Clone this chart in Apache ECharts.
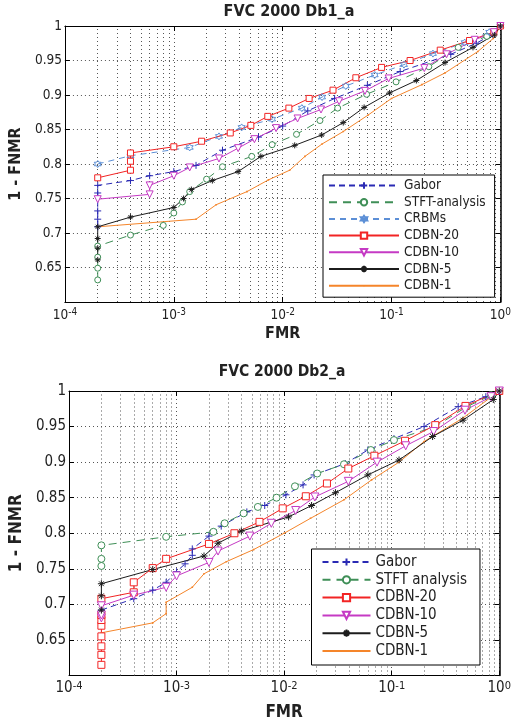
<!DOCTYPE html>
<html><head><meta charset="utf-8">
<script src="https://cdn.jsdelivr.net/npm/echarts@6/dist/echarts.min.js"></script>
<style>html,body{margin:0;padding:0;background:#fff}#c{width:514px;height:723px}</style>
</head><body><div id="c"></div>
<script>
// ---------- data ----------
const xTicks = [1e-4, 1e-3, 1e-2, 1e-1, 1];
const yTicks = [0.65, 0.7, 0.75, 0.8, 0.85, 0.9, 0.95, 1];
const titles = ['FVC 2000 Db1_a', 'FVC 2000 Db2_a'];
const names1 = ['Gabor', 'STFT-analysis', 'CRBMs', 'CDBN-20', 'CDBN-10', 'CDBN-5', 'CDBN-1'];
const names2 = ['Gabor', 'STFT analysis', 'CDBN-20', 'CDBN-10', 'CDBN-5', 'CDBN-1'];

// Chart 1: FVC 2000 Db1_a  [FMR, 1-FNMR]
const gabor1 = [[2e-4,0.709],[2e-4,0.720],[2e-4,0.732],[2e-4,0.758],[2e-4,0.769],[4e-4,0.776],[6e-4,0.783],[1e-3,0.789],[1.6e-3,0.798],[2.8e-3,0.820],[6e-3,0.839],[1e-2,0.855],[1.7e-2,0.877],[3e-2,0.895],[6e-2,0.914],[0.12,0.934],[0.35,0.959],[0.6,0.975],[0.85,0.988],[1,1]];
const stft1 = [[2e-4,0.632],[2e-4,0.649],[2e-4,0.665],[2e-4,0.681],[4e-4,0.697],[8e-4,0.711],[1e-3,0.729],[1.2e-3,0.745],[1.4e-3,0.760],[2e-3,0.778],[2.8e-3,0.796],[5.2e-3,0.811],[8e-3,0.828],[1.34e-2,0.843],[2.2e-2,0.863],[3.2e-2,0.881],[5.9e-2,0.901],[0.11,0.919],[0.22,0.941],[0.41,0.969],[0.75,0.985],[1,1]];
const crbm1 = [[2e-4,0.800],[4e-4,0.812],[1.4e-3,0.824],[2.6e-3,0.840],[4.2e-3,0.853],[8e-3,0.865],[1.5e-2,0.881],[2.3e-2,0.897],[3.8e-2,0.913],[7e-2,0.929],[0.13,0.944],[0.24,0.960],[0.47,0.976],[0.79,0.991],[1,1]];
const cdbn20_1 = [[2e-4,0.780],[4e-4,0.791],[4e-4,0.804],[4e-4,0.816],[1e-3,0.825],[1.8e-3,0.833],[3.3e-3,0.845],[5.1e-3,0.856],[7.3e-3,0.869],[1.14e-2,0.881],[1.75e-2,0.895],[2.9e-2,0.907],[4.7e-2,0.925],[8.1e-2,0.940],[0.148,0.950],[0.28,0.965],[0.52,0.979],[0.87,0.991],[1,1]];
const cdbn10_1 = [[2e-4,0.749],[6e-4,0.756],[6e-4,0.769],[1e-3,0.783],[1.4e-3,0.795],[2.6e-3,0.808],[3.9e-3,0.823],[5.5e-3,0.836],[8.7e-3,0.852],[1.37e-2,0.866],[2.25e-2,0.879],[3.3e-2,0.891],[5.7e-2,0.906],[9.4e-2,0.924],[0.2,0.939],[0.32,0.959],[0.58,0.980],[0.87,0.991],[1,1]];
const cdbn5_1 = [[2e-4,0.661],[2e-4,0.678],[2e-4,0.692],[2e-4,0.709],[4e-4,0.723],[1e-3,0.737],[1.23e-3,0.750],[1.45e-3,0.763],[2.26e-3,0.776],[3.9e-3,0.789],[6.3e-3,0.811],[1.29e-2,0.827],[2.28e-2,0.842],[3.6e-2,0.860],[5.6e-2,0.882],[9.6e-2,0.903],[0.169,0.921],[0.31,0.947],[0.56,0.969],[0.88,0.987],[1,1]];
const cdbn1_1 = [[2e-4,0.709],[1.6e-3,0.720],[2.45e-3,0.741],[4.7e-3,0.760],[7.4e-3,0.777],[1.16e-2,0.791],[1.6e-2,0.811],[2.3e-2,0.829],[3.6e-2,0.847],[6.1e-2,0.871],[0.1,0.895],[0.19,0.915],[0.31,0.932],[0.62,0.963],[0.86,0.982],[1,1]];

// Chart 2: FVC 2000 Db2_a
const gabor2 = [[2e-4,0.692],[4e-4,0.708],[6e-4,0.720],[8e-4,0.731],[1e-3,0.746],[1.2e-3,0.757],[1.4e-3,0.769],[1.4e-3,0.778],[2e-3,0.796],[2.6e-3,0.810],[4.5e-3,0.830],[6.6e-3,0.839],[1.04e-2,0.854],[1.5e-2,0.868],[1.9e-2,0.882],[3.7e-2,0.898],[6e-2,0.917],[0.105,0.933],[0.2,0.950],[0.415,0.978],[0.75,0.992],[1,1]];
const stft2 = [[2e-4,0.754],[2e-4,0.764],[2e-4,0.783],[8e-4,0.795],[2.2e-3,0.802],[2.8e-3,0.814],[4.2e-3,0.828],[5.7e-3,0.837],[8.5e-3,0.850],[1.26e-2,0.866],[2.03e-2,0.884],[3.6e-2,0.897],[6.4e-2,0.917],[0.105,0.931],[0.254,0.950],[0.5,0.978],[0.84,0.994],[1,1]];
const cdbn20_2 = [[2e-4,0.615],[2e-4,0.629],[2e-4,0.641],[2e-4,0.655],[2e-4,0.670],[2e-4,0.678],[2e-4,0.685],[2e-4,0.708],[4e-4,0.717],[4e-4,0.731],[6e-4,0.751],[8e-4,0.764],[2e-3,0.785],[3.45e-3,0.800],[5.9e-3,0.816],[9.7e-3,0.835],[1.59e-2,0.852],[2.5e-2,0.870],[3.95e-2,0.891],[6.9e-2,0.909],[0.133,0.930],[0.254,0.952],[0.485,0.979],[1,1]];
const cdbn10_2 = [[2e-4,0.681],[2e-4,0.685],[2e-4,0.698],[4e-4,0.713],[8e-4,0.724],[1e-3,0.740],[2e-3,0.759],[2.43e-3,0.775],[4.8e-3,0.796],[7.6e-3,0.814],[1.28e-2,0.832],[1.93e-2,0.851],[3.95e-2,0.873],[7.3e-2,0.900],[0.135,0.923],[0.245,0.943],[0.48,0.973],[0.84,0.992],[1,1]];
const cdbn5_2 = [[2e-4,0.692],[2e-4,0.712],[2e-4,0.729],[6e-4,0.749],[1.8e-3,0.768],[2.43e-3,0.786],[4e-3,0.803],[1.1e-2,0.823],[1.8e-2,0.839],[3e-2,0.857],[6e-2,0.882],[0.117,0.903],[0.24,0.936],[0.46,0.959],[0.88,0.988],[1,1]];
const cdbn1_2 = [[2e-4,0.660],[6e-4,0.674],[8e-4,0.687],[8e-4,0.703],[1.4e-3,0.724],[1.8e-3,0.743],[2.9e-3,0.760],[5.2e-3,0.777],[1e-2,0.800],[1.76e-2,0.821],[3.6e-2,0.847],[6.5e-2,0.875],[0.117,0.900],[0.2,0.929],[0.46,0.962],[1,1]];

// ---------- styling ----------
const FONT = "'DejaVu Sans Condensed', 'Liberation Sans', sans-serif";
const minorX = [];
for (let d = -4; d < 0; d++) for (let k = 2; k <= 9; k++) minorX.push(k * Math.pow(10, d));

const PLUS = 'path://M5,0V10M0,5H10';
const AST = 'path://M5,0V10M0,5H10M1.6,1.6L8.4,8.4M1.6,8.4L8.4,1.6';
const DOT = 'path://M0,0L0.01,0M10,10L9.99,10M4,4L6,4L6,6L4,6Z';
let hex = 'path://';
for (let i = 0; i < 12; i++) {
  const a = (-90 + i * 30) * Math.PI / 180, r = (i % 2 === 0) ? 5 : 2.9;
  hex += (i === 0 ? 'M' : 'L') + (5 + r * Math.cos(a)).toFixed(2) + ',' + (5 + r * Math.sin(a)).toFixed(2);
}
hex += 'Z';

const C = {gabor:'#2a2ab4', stft:'#3f8f57', crbm:'#5c8fd6', c20:'#f22424', c10:'#c53ac4', c5:'#1c1c1c', c1:'#f5852a'};

function mk(name, data, gi, color, dash, symbol, size, opts) {
  const path = symbol.indexOf('path://') === 0;
  const filled = symbol === DOT;
  const s = {
    type: 'line', name, data, xAxisIndex: gi * 2, yAxisIndex: gi * 2,
    symbol, symbolSize: size, showAllSymbol: true, animation: false, clip: false,
    lineStyle: {color, width: 1, type: dash},
    itemStyle: filled ? {color, borderWidth: 0}
             : path ? {color: 'none', borderColor: color, borderWidth: 1}
                    : {color: '#fff', borderColor: color, borderWidth: 1},
    emphasis: {disabled: true}, z: 3
  };
  return Object.assign(s, opts || {});
}

function withGrid(s) {
  s.markLine = {silent: true, symbol: 'none', animation: false, z: 1, precision: 8, label: {show: false},
    lineStyle: {type: [1, 3], color: '#555', width: 1}, emphasis: {disabled: true},
    data: minorX.map(v => ({xAxis: v}))};
  return s;
}

const series = [
  withGrid(mk(names1[6], cdbn1_1, 0, C.c1, 'solid', DOT, 8)),
  mk(names1[0], gabor1, 0, C.gabor, [6, 4], PLUS, 7),
  mk(names1[1], stft1, 0, C.stft, [8, 6], 'circle', 6),
  mk(names1[2], crbm1, 0, C.crbm, [6, 5], hex, 7),
  mk(names1[3], cdbn20_1, 0, C.c20, 'solid', 'rect', 6),
  mk(names1[4], cdbn10_1, 0, C.c10, 'solid', 'triangle', 7, {symbolRotate: 180}),
  mk(names1[5], cdbn5_1, 0, C.c5, 'solid', AST, 6),
  withGrid(mk(names2[5], cdbn1_2, 1, C.c1, 'solid', DOT, 8)),
  mk(names2[0], gabor2, 1, C.gabor, [6, 4], PLUS, 7),
  mk(names2[1], stft2, 1, C.stft, [8, 6], 'circle', 7),
  mk(names2[2], cdbn20_2, 1, C.c20, 'solid', 'rect', 7),
  mk(names2[3], cdbn10_2, 1, C.c10, 'solid', 'triangle', 8, {symbolRotate: 180}),
  mk(names2[4], cdbn5_2, 1, C.c5, 'solid', AST, 7)
];

const grids = [
  {left: 59, right: 10, top: 26, height: 276},
  {left: 63, right: 14, top: 391, height: 284.5}
];
const fs = [{tick: 13.5, exp: 10, name: 16, leg: 13.5}, {tick: 15, exp: 11, name: 17, leg: 15}];

const xAxes = [], yAxes = [];
[0, 1].forEach(gi => {
  const f = fs[gi];
  xAxes.push({
    type: 'log', logBase: 10, gridIndex: gi, min: xTicks[0], max: xTicks[xTicks.length - 1], position: 'bottom',
    name: 'FMR', nameLocation: 'middle', nameGap: gi ? 29 : 24,
    nameTextStyle: {fontFamily: FONT, fontWeight: 'bold', fontSize: f.name, color: '#222'},
    axisLine: {show: true, lineStyle: {color: '#000', width: 1}},
    axisTick: {show: true, inside: true, length: 5, lineStyle: {color: '#000'}},
    splitLine: {show: true, lineStyle: {type: [1, 3], color: '#555', width: 1}},
    axisLabel: {margin: 5, formatter: v => '{b|10}{e|' + Math.round(Math.log10(v)) + '}', showMinLabel: true, showMaxLabel: true,
      rich: {b: {fontFamily: FONT, fontSize: f.tick, color: '#222', lineHeight: 15, verticalAlign: 'bottom'},
             e: {fontFamily: FONT, fontSize: f.exp, color: '#222', lineHeight: 11, verticalAlign: 'top'}}}
  });
  xAxes.push({
    type: 'log', logBase: 10, gridIndex: gi, min: xTicks[0], max: xTicks[xTicks.length - 1], position: 'top',
    axisLine: {show: true, lineStyle: {color: '#000', width: 1}},
    axisTick: {show: true, inside: true, length: 5, lineStyle: {color: '#000'}},
    splitLine: {show: false}, axisLabel: {show: false}
  });
  yAxes.push({
    type: 'value', gridIndex: gi, min: 0.6, max: 1, interval: 0.05, position: 'left',
    name: '1 - FNMR', nameLocation: 'middle', nameGap: gi ? 44 : 37,
    nameTextStyle: {fontFamily: FONT, fontWeight: 'bold', fontSize: f.name, color: '#222'},
    axisLine: {show: true, lineStyle: {color: '#000', width: 1}},
    axisTick: {show: true, inside: true, length: 5, lineStyle: {color: '#000'}},
    splitLine: {show: true, lineStyle: {type: [1, 3], color: '#555', width: 1}},
    axisLabel: {margin: 3, fontFamily: FONT, fontSize: f.tick, color: '#222',
      formatter: v => { const r = Math.round(v * 100) / 100; return yTicks.some(t => Math.abs(t - r) < 1e-6) ? String(r) : ''; }}
  });
  yAxes.push({
    type: 'value', gridIndex: gi, min: 0.6, max: 1, interval: 0.05, position: 'right',
    axisLine: {show: true, lineStyle: {color: '#000', width: 1.5}},
    axisTick: {show: true, inside: true, length: 5, lineStyle: {color: '#000'}},
    splitLine: {show: false}, axisLabel: {show: false}
  });
});

const legends = [
  {data: names1, left: 323, top: 175, itemWidth: 70, itemHeight: 8, itemGap: 1.7, padding: [3, 9, 4, 5],
   textStyle: {fontFamily: FONT, fontSize: fs[0].leg, color: '#222', lineHeight: 15}},
  {data: names2, left: 311.5, top: 549, itemWidth: 48, itemHeight: 9, itemGap: 1.8, padding: [5, 13, 6, 10],
   textStyle: {fontFamily: FONT, fontSize: fs[1].leg, color: '#222', lineHeight: 16}}
].map(l => Object.assign({orient: 'vertical', backgroundColor: '#fff', borderColor: '#000', borderWidth: 1,
  borderRadius: 0, selectedMode: false, align: 'left'}, l));

const chart = echarts.init(document.getElementById('c'), null, {renderer: 'canvas'});
chart.setOption({
  animation: false,
  backgroundColor: '#fff',
  grid: grids,
  xAxis: xAxes,
  yAxis: yAxes,
  legend: legends,
  graphic: [
    {type: 'text', x: 289, y: 12, style: {text: titles[0], fill: '#222', font: 'bold 16px ' + FONT, textAlign: 'center', textVerticalAlign: 'middle'}},
    {type: 'text', x: 282, y: 372, style: {text: titles[1], fill: '#222', font: 'bold 15.5px ' + FONT, textAlign: 'center', textVerticalAlign: 'middle'}}
  ],
  series
});
</script></body></html>
